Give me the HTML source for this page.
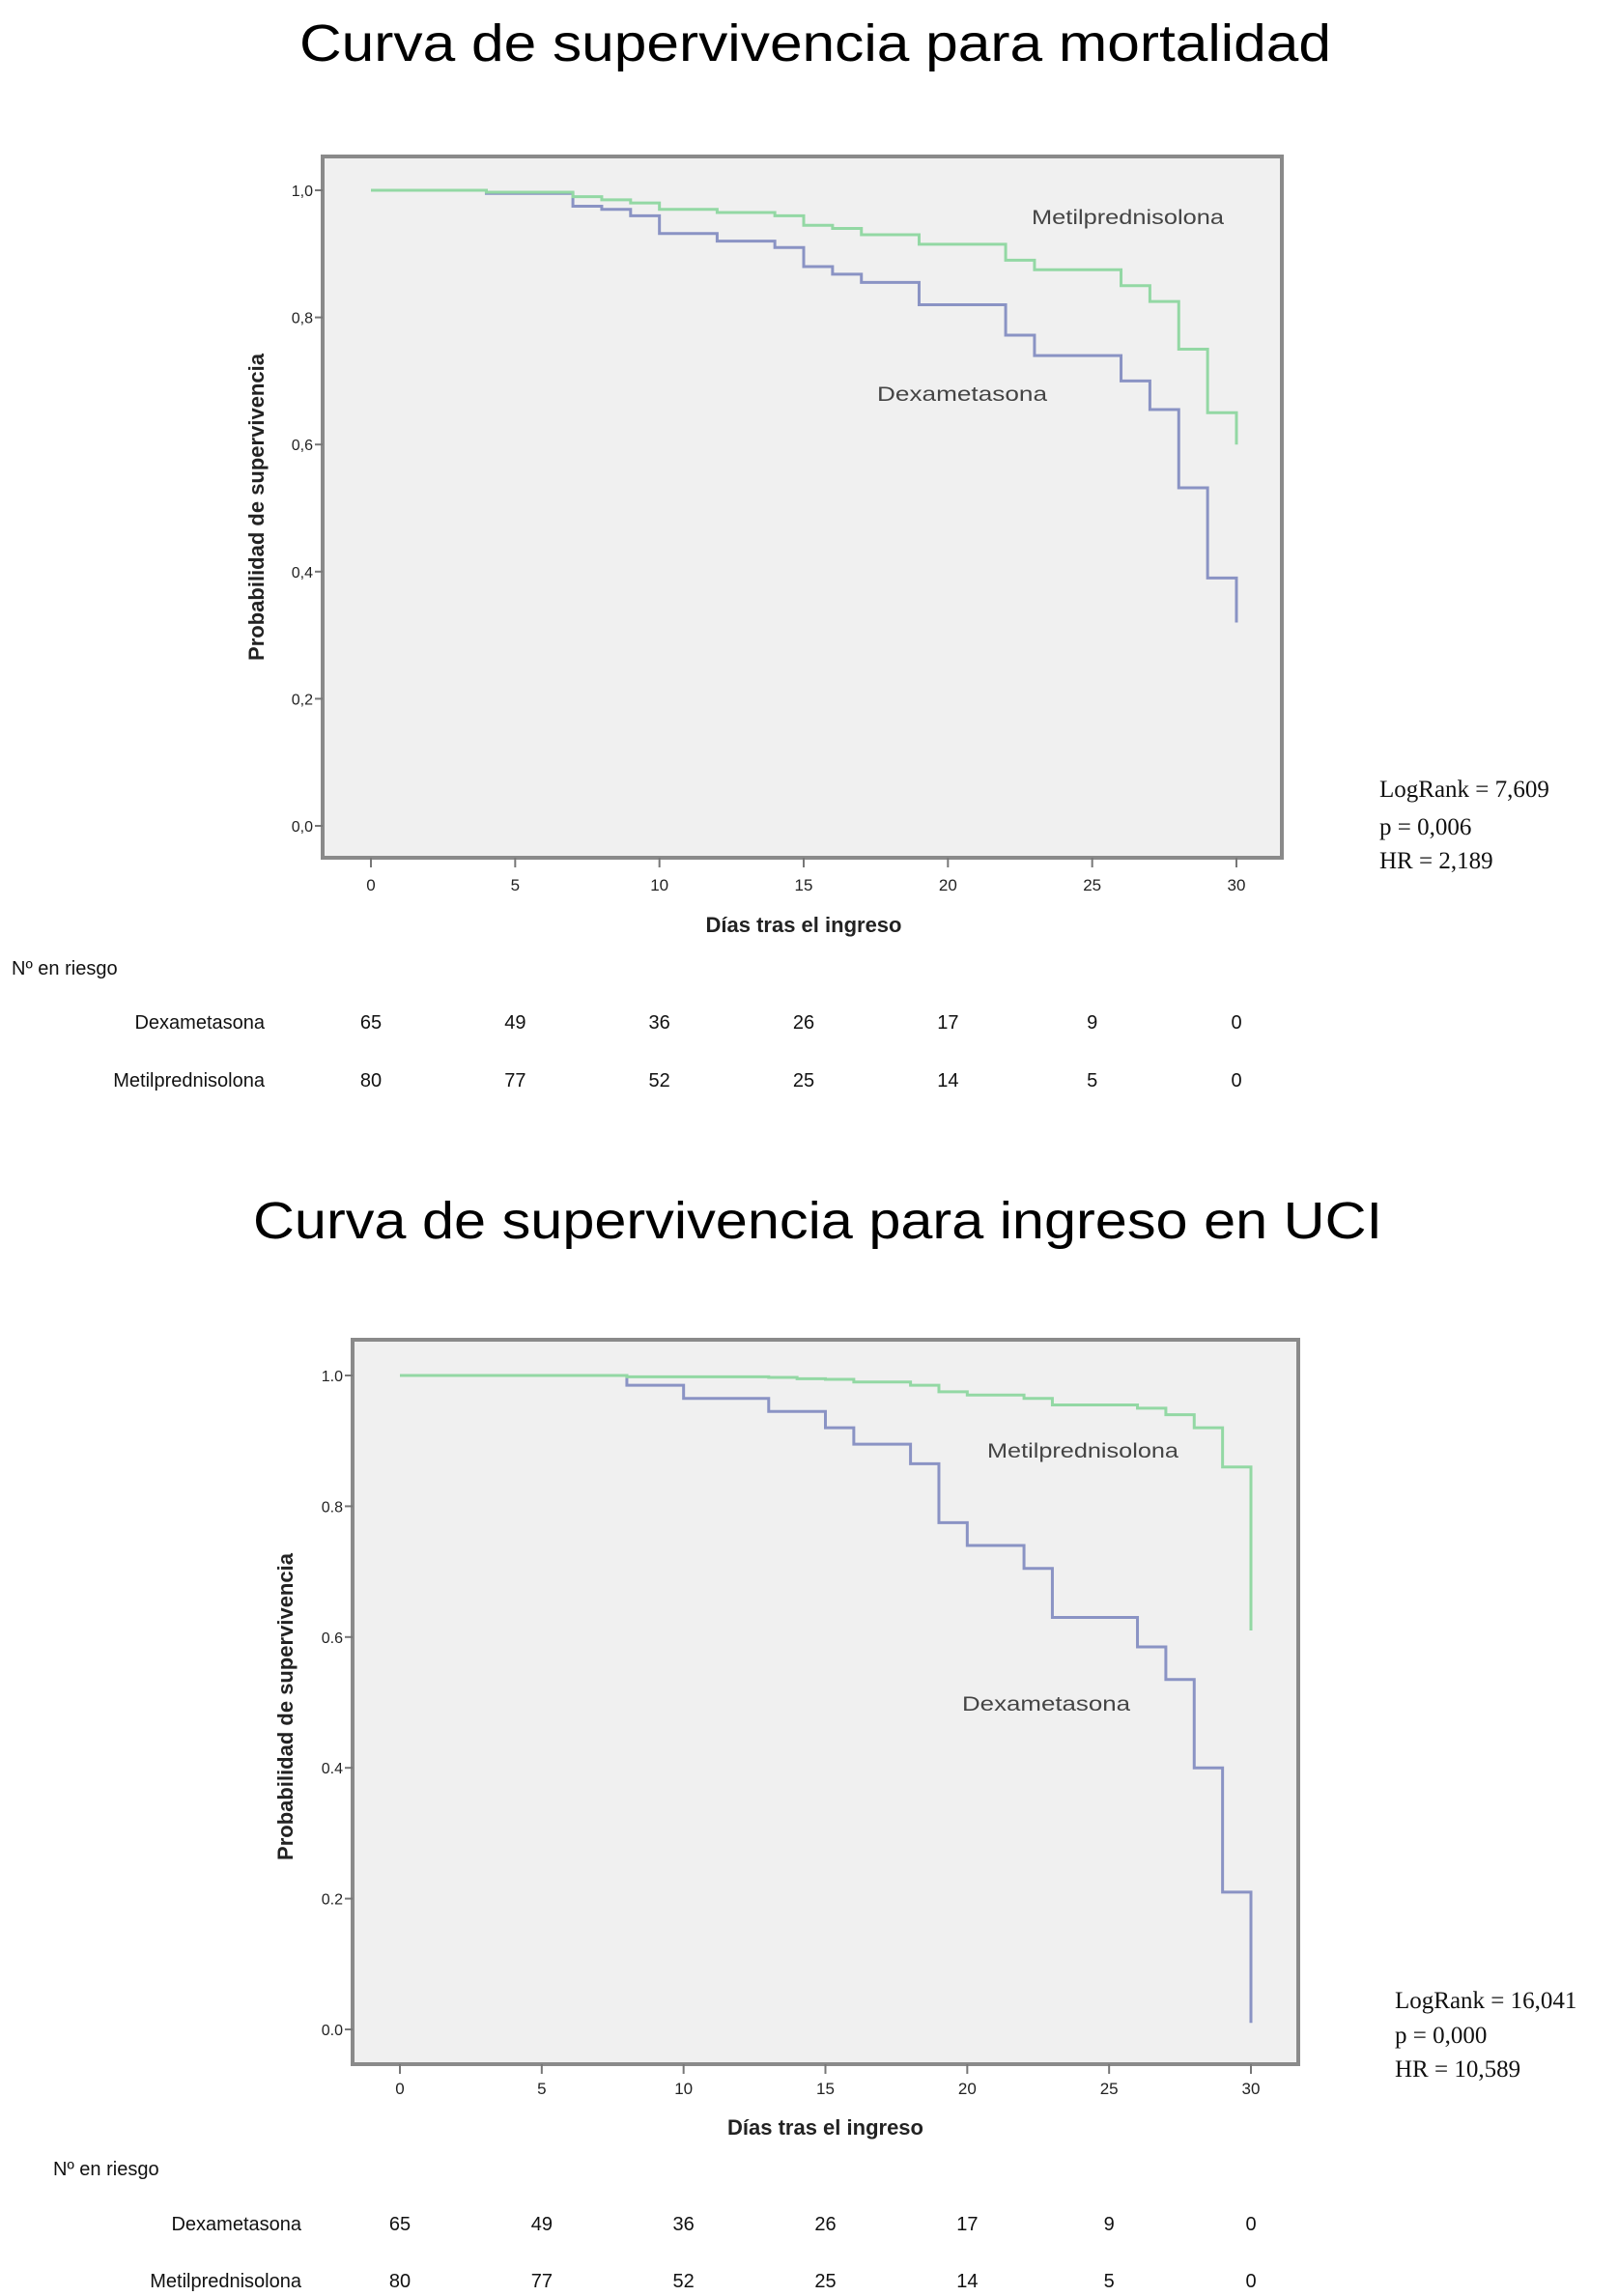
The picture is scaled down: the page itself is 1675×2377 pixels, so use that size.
<!DOCTYPE html>
<html><head><meta charset="utf-8"><style>
html,body{margin:0;padding:0;background:#fff;}
svg{display:block;}
text{font-family:"Liberation Sans",sans-serif;}
text.serif{font-family:"Liberation Serif",serif;}
</style></head><body>
<svg id="root" width="1675" height="2377" viewBox="0 0 1675 2377" xmlns="http://www.w3.org/2000/svg"></svg>
<script>
// Chart 1 data (mortalidad)
const c1Times = [0,4,7,8,9,10,12,14,15,16,17,19,22,23,26,27,28,29,30];
const c1Dex = [1.0,0.995,0.975,0.97,0.96,0.932,0.92,0.91,0.88,0.868,0.855,0.82,0.772,0.74,0.70,0.655,0.532,0.39,0.32];
const c1Met = [1.0,0.997,0.99,0.985,0.98,0.97,0.965,0.96,0.945,0.94,0.93,0.915,0.89,0.875,0.85,0.825,0.75,0.65,0.60];
// Chart 2 data (ingreso UCI)
const c2Times = [0,8,10,13,14,15,16,18,19,20,22,23,26,27,28,29,30];
const c2Dex = [1.0,0.985,0.965,0.945,0.945,0.92,0.895,0.865,0.775,0.74,0.705,0.63,0.585,0.535,0.40,0.21,0.01];
const c2Met = [1.0,0.998,0.998,0.997,0.995,0.994,0.99,0.985,0.975,0.97,0.965,0.955,0.95,0.94,0.92,0.86,0.61];
const xTicks = [0,5,10,15,20,25,30];
const yTicks = [0,0.2,0.4,0.6,0.8,1.0];
const c1RiskDex = [65,49,36,26,17,9,0];
const c1RiskMet = [80,77,52,25,14,5,0];
const c2RiskDex = [65,49,36,26,17,9,0];
const c2RiskMet = [80,77,52,25,14,5,0];
const c1Stats = ["LogRank = 7,609","p = 0,006","HR = 2,189"];
const c2Stats = ["LogRank = 16,041","p = 0,000","HR = 10,589"];

const NS="http://www.w3.org/2000/svg";
const root=document.getElementById('root');
function mk(tag,attrs,parent,txt){const e=document.createElementNS(NS,tag);for(const k in attrs)e.setAttribute(k,attrs[k]);if(txt!==undefined)e.textContent=txt;(parent||root).appendChild(e);return e;}

function chart(cfg){
  const g=mk('g',{});
  
  
  const sx=v=>cfg.x0+(v-0)/30*(cfg.x30-cfg.x0);
  const sy=v=>cfg.y0+(v)*(cfg.y1-cfg.y0);
  const t=mk('text',{x:(cfg.tL+cfg.tR)/2,y:cfg.tY,'font-size':54,'text-anchor':'middle',fill:'#000',textLength:cfg.tR-cfg.tL,lengthAdjust:'spacingAndGlyphs'},g,cfg.title);
  
  
  const fr=mk('rect',{x:cfg.fl,y:cfg.ft,width:cfg.fr-cfg.fl,height:cfg.fb-cfg.ft,fill:'#f0f0f0',stroke:'#8a8a8a','stroke-width':4},g);
  
  
  yTicks.forEach(v=>{
    const y=sy(v);
    const l=mk('line',{x1:cfg.fl-8,x2:cfg.fl,y1:y,y2:y,stroke:'#777','stroke-width':2},g);
    
    
    const tx=mk('text',{x:cfg.fl-10,y:y+6,'font-size':16,'text-anchor':'end',fill:'#222'},g,v.toFixed(1).replace('.',cfg.dec));
    
    
  });
  xTicks.forEach(v=>{
    const x=sx(v);
    const l=mk('line',{x1:x,x2:x,y1:cfg.fb,y2:cfg.fb+10,stroke:'#777','stroke-width':2},g);
    
    
    const tx=mk('text',{x:x,y:cfg.xlY,'font-size':17,'text-anchor':'middle',fill:'#222'},g,String(v));
    
    
  });
  const xt=mk('text',{x:(cfg.x0+cfg.x30)/2,y:cfg.xtY,'font-size':22,'font-weight':'bold','text-anchor':'middle',fill:'#222'},g,'Días tras el ingreso');
  
  
  const yt=mk('text',{x:0,y:0,'font-size':22,'font-weight':'bold','text-anchor':'middle',fill:'#222',transform:`translate(${cfg.ytX},${cfg.ytY}) rotate(-90)`},g,'Probabilidad de supervivencia');
  
  
  function curve(vals,color,name){
    let d=`M${sx(cfg.times[0])},${sy(vals[0])}`;
    for(let i=1;i<cfg.times.length;i++){d+=` H${sx(cfg.times[i])} V${sy(vals[i])}`;}
    const p=mk('path',{d:d,fill:'none',stroke:color,'stroke-width':3},g);
    
    
  }
  curve(cfg.dex,'#8a93c4','dexametasona-curve');
  curve(cfg.met,'#93d8a4','metilprednisolona-curve');
  const ml=mk('text',{x:cfg.metL[0],y:cfg.metL[1]+7,'font-size':21,fill:'#444',textLength:cfg.metL[2],lengthAdjust:'spacingAndGlyphs'},g,'Metilprednisolona');
  
  
  const dl=mk('text',{x:cfg.dexL[0],y:cfg.dexL[1]+7,'font-size':21,fill:'#444',textLength:cfg.dexL[2],lengthAdjust:'spacingAndGlyphs'},g,'Dexametasona');
  
  
  cfg.stats.forEach((s,i)=>{
    const st=mk('text',{x:cfg.stX,y:cfg.stY[i]+8,'font-size':25,fill:'#111','class':'serif'},g,s);
    
    
  });
  const nr=mk('text',{x:cfg.nrX,y:cfg.nrY+7,'font-size':20,fill:'#111'},g,'Nº en riesgo');
  
  
  [[cfg.riskDex,'Dexametasona',cfg.rY[0]],[cfg.riskMet,'Metilprednisolona',cfg.rY[1]]].forEach(([arr,lab,y])=>{
    const lt=mk('text',{x:cfg.rLabR,y:y+7,'font-size':20,'text-anchor':'end',fill:'#111'},g,lab);
    
    
    arr.forEach((n,i)=>{
      const nt=mk('text',{x:sx(xTicks[i]),y:y+7,'font-size':20,'text-anchor':'middle',fill:'#111'},g,String(n));
      
      
    });
  });
}

chart({name:'mortality-chart',title:'Curva de supervivencia para mortalidad',tL:310,tR:1378,tY:63,
  fl:334,fr:1327,ft:162,fb:888,x0:384,x30:1280,y0:855,y1:197,dec:',',
  xlY:922,xtY:965,ytX:273,ytY:525,times:c1Times,dex:c1Dex,met:c1Met,
  metL:[1068,225,199],dexL:[908,408,176],stats:c1Stats,stX:1428,stY:[817,856,891],
  nrX:12,nrY:1002,rY:[1058,1118],rLabR:274,riskDex:c1RiskDex,riskMet:c1RiskMet});
chart({name:'icu-chart',title:'Curva de supervivencia para ingreso en UCI',tL:262,tR:1431,tY:1282,
  fl:365,fr:1344,ft:1387,fb:2137,x0:414,x30:1295,y0:2101,y1:1424,dec:'.',
  xlY:2168,xtY:2210,ytX:303,ytY:1767,times:c2Times,dex:c2Dex,met:c2Met,
  metL:[1022,1502,198],dexL:[996,1764,174],stats:c2Stats,stX:1444,stY:[2071,2107,2142],
  nrX:55,nrY:2245,rY:[2302,2361],rLabR:312,riskDex:c2RiskDex,riskMet:c2RiskMet});
</script>
</body></html>
